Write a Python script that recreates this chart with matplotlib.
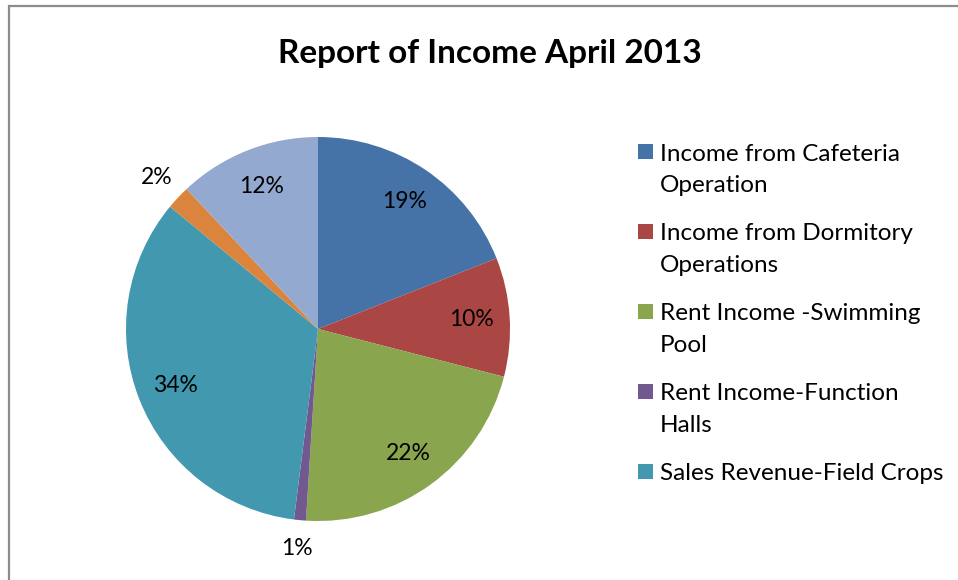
import matplotlib.pyplot as plt
import numpy as np
from matplotlib.patches import Rectangle

plt.rcParams['font.family'] = ['Lato', 'DejaVu Sans']

# slice shares in percent, clockwise from 12 o'clock
shares = [19, 10, 22, 1, 34, 2, 12]
colors = ['#4572A7', '#AA4643', '#89A54E', '#71588F', '#4198AF', '#DB843D', '#93A9CF']
legend_labels = ['Income from Cafeteria\nOperation',
                 'Income from Dormitory\nOperations',
                 'Rent Income -Swimming\nPool',
                 'Rent Income-Function\nHalls',
                 'Sales Revenue-Field Crops']
title = 'Report of Income April 2013'

W, H = 958, 580
fig = plt.figure(figsize=(W / 100, H / 100), dpi=100)

# chart area border (runs off the right and bottom edges)
fig.add_artist(Rectangle((9 / W, -0.1), 1.2, 1 - 6 / H + 0.1, transform=fig.transFigure,
                         fill=False, edgecolor='#8c8c8c', linewidth=1.6))

cx, cy, r = 318, 329, 192
ax = fig.add_axes([(cx - r) / W, (H - cy - r) / H, 2 * r / W, 2 * r / H])
wedges, _ = ax.pie(shares, colors=colors, startangle=90, counterclock=False,
                   radius=1, wedgeprops=dict(linewidth=0))
ax.set_xlim(-1, 1)
ax.set_ylim(-1, 1)
ax.set_aspect('equal')
ax.axis('off')

# percentage labels: inside the slice, or just outside for thin slices
for w, v in zip(wedges, shares):
    ang = np.deg2rad((w.theta1 + w.theta2) / 2)
    d = 0.8 if v >= 5 else 1.15
    ax.text(d * np.cos(ang), d * np.sin(ang), f'{v}%', ha='center', va='center',
            fontsize=16.5, color='#000000')

fig.text(490 / W, 1 - 53 / H, title, ha='center', va='center',
         fontsize=24, fontweight='bold')

# legend (only the first five entries fit in the chart area)
y0 = 152
for i, (lab, c) in enumerate(zip(legend_labels, colors)):
    y = y0 + i * 80
    fig.add_artist(Rectangle((638 / W, 1 - (y + 7) / H), 15 / W, 15 / H,
                             transform=fig.transFigure, facecolor=c, edgecolor='none'))
    for j, line in enumerate(lab.split('\n')):
        fig.text(660 / W, 1 - (y + 32 * j) / H, line, ha='left', va='center_baseline',
                 fontsize=17.5)

fig.savefig('out.png', dpi=100)
